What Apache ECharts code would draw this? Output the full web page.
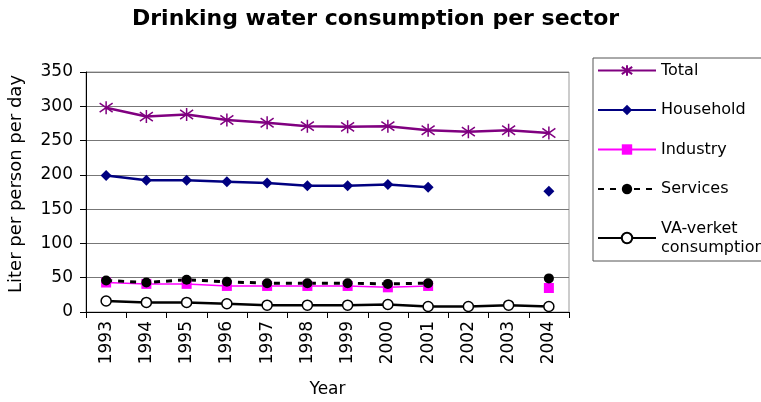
<!DOCTYPE html>
<html>
<head>
<meta charset="utf-8">
<script src="https://cdn.jsdelivr.net/npm/echarts@6/dist/echarts.min.js"></script>
<style>
  html, body { margin: 0; padding: 0; background: #fff; }
  #chart { width: 761px; height: 402px; }
</style>
</head>
<body>
<div id="chart"></div>
<script>
// data
var years = ['1993', '1994', '1995', '1996', '1997', '1998', '1999', '2000', '2001', '2002', '2003', '2004'];
var total = [298, 285, 288, 280, 276, 271, 270, 271, 265, 263, 265, 261];
var household = [199, 192, 192, 190, 188, 184, 184, 186, 182, null, null, 176];
var industry = [43, 41, 41, 38, 38, 38, 38, 36, 38, null, null, 35];
var services = [46, 43, 47, 44, 42, 42, 42, 41, 42, null, null, 49];
var vaVerket = [16, 14, 14, 12, 10, 10, 10, 11, 8, 8, 10, 8];
var yTicks = [0, 50, 100, 150, 200, 250, 300, 350];

var font = 'DejaVu Sans';
var asterisk = 'path://M5,0L5,10M1.5,1.5L8.5,8.5M8.5,1.5L1.5,8.5';

var chart = echarts.init(document.getElementById('chart'));

var option = {
    animation: false,
    textStyle: { fontFamily: font },
    title: {
        text: 'Drinking water consumption per sector',
        left: 127,
        top: 3,
        textStyle: { fontFamily: font, fontSize: 22, fontWeight: 'bold', color: '#000' }
    },
    legend: {
        orient: 'vertical',
        left: 593,
        top: 58,
        padding: [3, 60, 4, 4],
        itemWidth: 58,
        itemHeight: 13,
        itemGap: 20.5,
        borderColor: '#555',
        borderWidth: 1,
        textStyle: { fontFamily: font, fontSize: 16, color: '#000', lineHeight: 19 },
        formatter: function (name) {
            return name === 'VA-verket consumption' ? 'VA-verket\nconsumption' : name;
        },
        data: ['Total', 'Household', 'Industry', 'Services', 'VA-verket consumption']
    },
    grid: {
        left: 86,
        right: 192,
        top: 72,
        bottom: 90,
        outerBoundsMode: 'none',
        containLabel: false,
        show: true,
        borderColor: '#999',
        borderWidth: 1
    },
    xAxis: {
        type: 'category',
        data: years,
        boundaryGap: true,
        name: 'Year',
        nameLocation: 'middle',
        nameGap: 69,
        nameTextStyle: { fontFamily: font, fontSize: 17, color: '#000' },
        axisLine: { lineStyle: { color: '#000', width: 1 } },
        axisTick: { show: true, alignWithLabel: false, length: 6, lineStyle: { color: '#000' } },
        axisLabel: { rotate: 90, fontFamily: font, fontSize: 17, color: '#000', margin: 9 },
        splitLine: { show: false }
    },
    yAxis: {
        type: 'value',
        min: yTicks[0],
        max: yTicks[yTicks.length - 1],
        interval: 50,
        name: 'Liter per person per day',
        nameLocation: 'middle',
        nameGap: 61,
        nameTextStyle: { fontFamily: font, fontSize: 18, color: '#000', padding: [0, 0, 0, 16] },
        axisLine: { show: true, lineStyle: { color: '#000', width: 1 } },
        axisTick: { show: true, length: 6, lineStyle: { color: '#000' } },
        axisLabel: { fontFamily: font, fontSize: 17, color: '#000', margin: 13 },
        splitLine: { show: true, lineStyle: { color: '#777', width: 1 } }
    },
    series: [
        {
            name: 'Total',
            type: 'line',
            data: total,
            symbol: asterisk,
            symbolSize: 13,
            lineStyle: { color: '#800080', width: 2.5 },
            itemStyle: { color: '#800080', borderColor: '#800080', borderWidth: 1.5 }
        },
        {
            name: 'Household',
            type: 'line',
            data: household,
            symbol: 'diamond',
            symbolSize: 11,
            connectNulls: false,
            lineStyle: { color: '#000080', width: 2.5 },
            itemStyle: { color: '#000080' }
        },
        {
            name: 'Industry',
            type: 'line',
            data: industry,
            symbol: 'rect',
            symbolSize: 10,
            connectNulls: false,
            lineStyle: { color: '#ff00ff', width: 1.5 },
            itemStyle: { color: '#ff00ff' }
        },
        {
            name: 'Services',
            type: 'line',
            data: services,
            symbol: 'circle',
            symbolSize: 10,
            connectNulls: false,
            lineStyle: { color: '#000', width: 3, type: [6, 6] },
            itemStyle: { color: '#000' }
        },
        {
            name: 'VA-verket consumption',
            type: 'line',
            data: vaVerket,
            symbol: 'circle',
            symbolSize: 10,
            lineStyle: { color: '#000', width: 2.5 },
            itemStyle: { color: '#fff', borderColor: '#000', borderWidth: 1.5 }
        }
    ]
};

chart.setOption(option);
</script>
</body>
</html>
